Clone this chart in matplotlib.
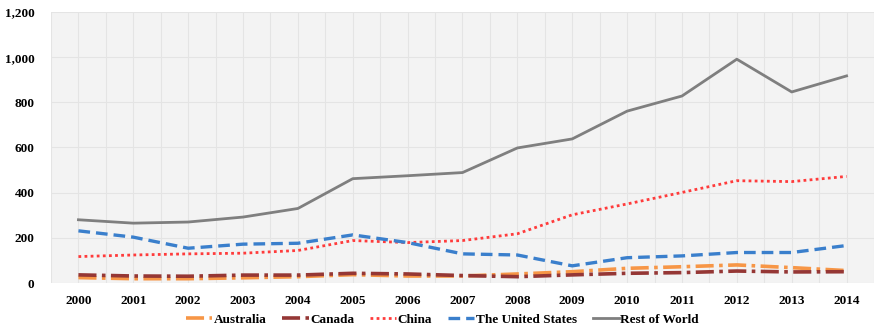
import matplotlib
matplotlib.use("Agg")
import matplotlib.pyplot as plt
from matplotlib.ticker import FuncFormatter, MultipleLocator

years = list(range(2000, 2015))
australia = [24, 19, 19, 23, 28, 37, 31, 31, 40, 50, 65, 72, 80, 68, 55]
canada = [36, 31, 30, 35, 35, 43, 40, 33, 28, 36, 43, 46, 53, 49, 50]
china = [117, 124, 129, 132, 144, 188, 179, 188, 218, 302, 350, 401, 453, 449, 472]
united_states = [231, 203, 154, 172, 176, 213, 179, 129, 124, 76, 112, 120, 135, 135, 166]
rest_of_world = [280, 265, 270, 292, 330, 462, 475, 489, 598, 638, 761, 828, 991, 846, 917]

plt.rcParams["font.family"] = ["Liberation Serif", "DejaVu Serif"]
plt.rcParams["font.weight"] = "bold"

fig = plt.figure(figsize=(8.76, 3.31), dpi=100)
ax = fig.add_axes([51 / 876, 48 / 331, 823 / 876, 271 / 331])
ax.set_facecolor("#f3f3f3")

ax.plot(years, australia, color="#f79646", lw=2.6, linestyle=(0, (5, 1.5, 1, 1.5)),
        label="Australia")
ax.plot(years, canada, color="#953735", lw=2.6, linestyle=(0, (5, 1.5, 1, 1.5)),
        label="Canada")
ax.plot(years, china, color="#ff3b3b", lw=2.0, linestyle=(0, (1, 1.2)), label="China")
ax.plot(years, united_states, color="#3a7fcc", lw=2.4, linestyle=(0, (3.5, 1.8)),
        label="The United States")
ax.plot(years, rest_of_world, color="#7f7f7f", lw=2.0, linestyle="-",
        label="Rest of World")

ax.set_xlim(1999.5, 2014.5)
ax.set_ylim(0, 1200)
ax.set_xticks(years)
ax.xaxis.set_minor_locator(MultipleLocator(0.5))
ax.yaxis.set_major_locator(MultipleLocator(200))
ax.yaxis.set_major_formatter(FuncFormatter(lambda v, p: f"{int(v):,}"))

ax.grid(True, which="both", axis="x", color="#e4e4e4", lw=0.8)
ax.grid(True, which="major", axis="y", color="#e4e4e4", lw=0.8)
ax.set_axisbelow(True)
for s in ax.spines.values():
    s.set_visible(False)
ax.tick_params(which="both", length=0)
ax.tick_params(axis="x", pad=9, labelsize=9.5)
ax.tick_params(axis="y", pad=12, labelsize=9.5)
for lab in ax.get_xticklabels() + ax.get_yticklabels():
    lab.set_fontweight("bold")

leg = fig.legend(loc="lower center", bbox_to_anchor=(0.505, -0.02), ncol=5,
                 frameon=False, fontsize=9.5, handlelength=2.0, handletextpad=0.1,
                 columnspacing=1.2, prop={"weight": "bold", "size": 9.5})

fig.savefig("out.png", dpi=100, facecolor="white")
